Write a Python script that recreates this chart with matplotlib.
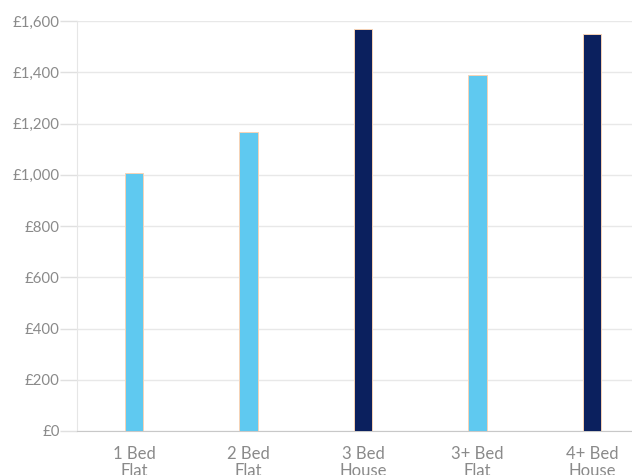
import matplotlib.pyplot as plt
import numpy as np

plt.rcParams["font.family"] = ["Lato", "DejaVu Sans"]

categories = ["1 Bed\nFlat", "2 Bed\nFlat", "3 Bed\nHouse", "3+ Bed\nFlat", "4+ Bed\nHouse"]
rents = [1007, 1167, 1569, 1389, 1549]
kinds = ["flat", "flat", "house", "flat", "house"]
y_ticks = [0, 200, 400, 600, 800, 1000, 1200, 1400, 1600]

colours = {"flat": "#5FC9F0", "house": "#0B205E"}
text_grey = "#8A8A8A"

fig = plt.figure(figsize=(6.32, 4.75), dpi=100)
ax = fig.add_axes([77 / 632, 44 / 475, 572 / 632, 410 / 475])

x = np.arange(len(categories))
ax.bar(x, rents, width=0.16, color=[colours[k] for k in kinds],
       edgecolor="#F7D3B5", linewidth=0.7, zorder=3)

ax.set_xlim(-0.5, 4.5)
ax.set_ylim(0, 1600)
ax.set_yticks(y_ticks)
ax.set_yticklabels([f"£{v:,}" for v in y_ticks])
ax.set_xticks(x)
ax.set_xticklabels(categories)

ax.grid(axis="y", color="#E8E8E8", linewidth=1, zorder=0)
for side in ("top", "right"):
    ax.spines[side].set_visible(False)
ax.spines["left"].set_color("#E6E6E6")
ax.spines["bottom"].set_color("#C8C8C8")

ax.tick_params(axis="y", length=12, width=1, color="#E0E0E0", pad=0.5,
               labelsize=10.8, labelcolor=text_grey)
ax.tick_params(axis="x", length=0, pad=11, labelsize=12, labelcolor=text_grey)
for lbl in ax.get_xticklabels():
    lbl.set_linespacing(1.05)

fig.savefig("out.png", dpi=100)
